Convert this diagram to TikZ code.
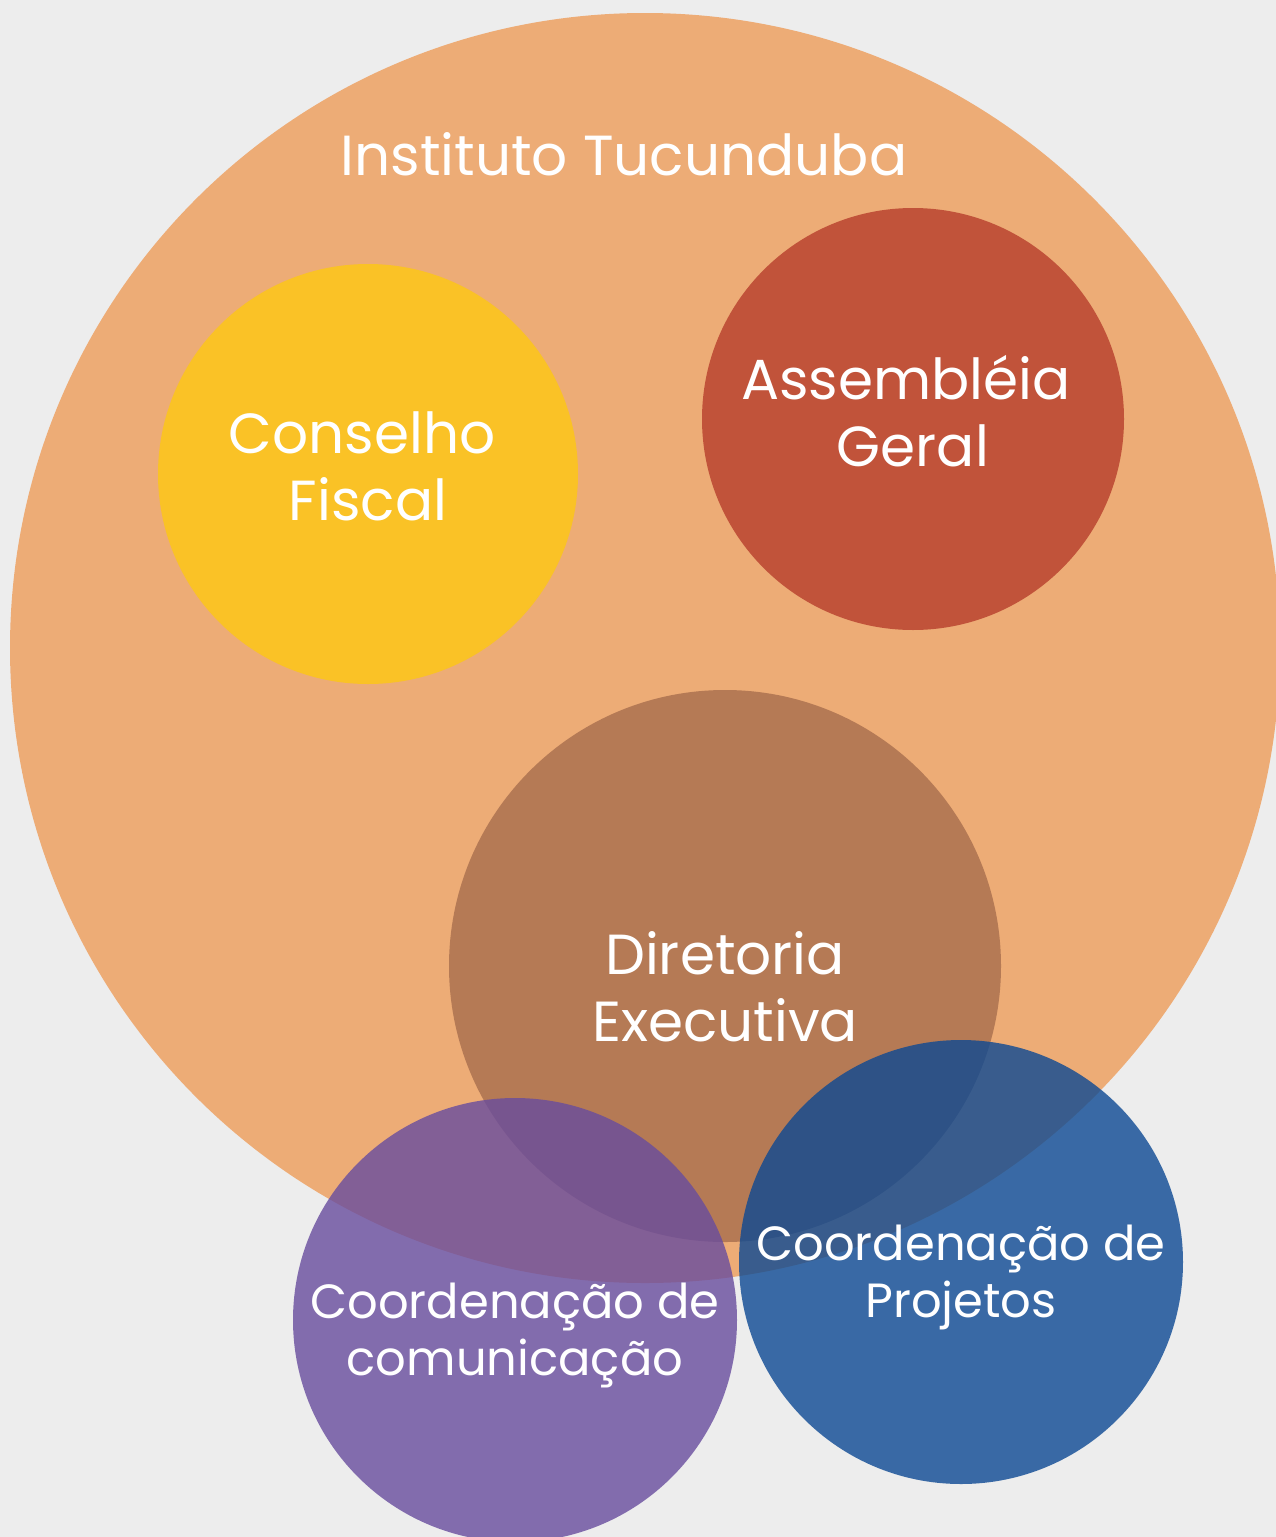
\documentclass[tikz,border=0pt]{standalone}
\usepackage{fontspec}
\setmainfont{Poppins}
\definecolor{bgc}{HTML}{EDEDED}
\definecolor{orangec}{HTML}{EDAC76}
\definecolor{yellowc}{HTML}{FAC226}
\definecolor{redc}{HTML}{C1533A}
\definecolor{brownc}{HTML}{B57A55}
\definecolor{purplec}{RGB}{104,76,158}
\definecolor{bluec}{RGB}{13,73,147}
\tikzset{
  lbl/.style={text=white, align=center, font=\fontsize{56.5}{67}\selectfont},
  lblsmall/.style={text=white, align=center, font=\fontsize{48}{57}\selectfont},
}
\begin{document}
\begin{tikzpicture}[x=1pt,y=-1pt]
\fill[bgc] (0,0) rectangle (1276,1537);
\useasboundingbox (0,0) rectangle (1276,1537);
\fill[orangec] (645,648) circle[radius=635];
\fill[yellowc] (368,474) circle[radius=210];
\fill[redc] (913,419) circle[radius=211];
\fill[brownc] (725,966) circle[radius=276];
\fill[purplec, fill opacity=0.8] (515,1320) circle[radius=222];
\fill[bluec, fill opacity=0.8] (961,1262) circle[radius=222];
\node[lbl] (title) at (624,154) {Instituto Tucunduba};
\node[lbl] (cf) at (368,466) {Conselho\hspace{12pt}\mbox{}\\Fiscal};
\node[lbl] (ag) at (913,411) {Assembléia\hspace{14pt}\mbox{}\\Geral};
\node[lbl] (de) at (725,987) {Diretoria\\Executiva};
\node[lblsmall] (cc) at (515,1335) {Coordenação de\\comunicação};
\node[lblsmall] (cp) at (961,1277) {Coordenação de\\Projetos};
\end{tikzpicture}
\end{document}
